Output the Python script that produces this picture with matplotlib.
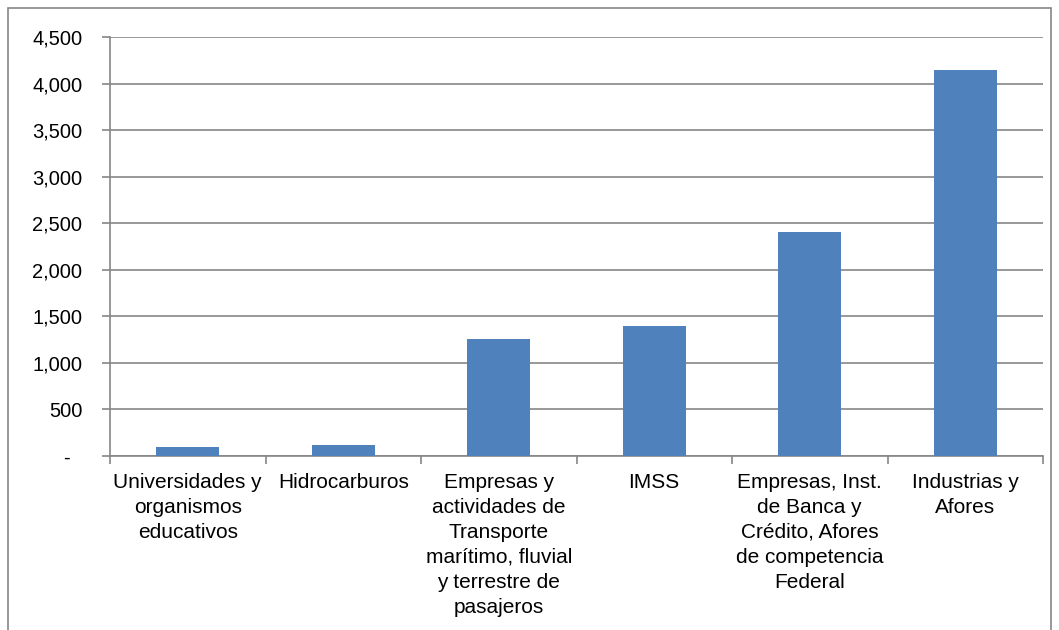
import matplotlib.pyplot as plt
import numpy as np
from matplotlib.patches import Rectangle

plt.rcParams['font.family'] = ['Liberation Sans', 'DejaVu Sans']

categorias = ['Universidades y\norganismos\neducativos',
              'Hidrocarburos',
              'Empresas y\nactividades de\nTransporte\nmarítimo, fluvial\ny terrestre de\npasajeros',
              'IMSS',
              'Empresas, Inst.\nde Banca y\nCrédito, Afores\nde competencia\nFederal',
              'Industrias y\nAfores']
valores = [100, 120, 1260, 1400, 2410, 4145]
yticks = [0, 500, 1000, 1500, 2000, 2500, 3000, 3500, 4000, 4500]
ylabels = ['-  ', '500', '1,000', '1,500', '2,000', '2,500', '3,000', '3,500', '4,000', '4,500']

grid_col = '#868686'
bar_col = '#4F81BD'

fig = plt.figure(figsize=(10.59, 6.30), dpi=100)
ax = fig.add_axes([110/1059, 1-456/630, (1043-110)/1059, (456-37)/630])

x = np.arange(len(valores))
ax.bar(x, valores, width=0.405, color=bar_col, zorder=3)

ax.set_xlim(-0.5, len(valores)-0.5)
ax.set_ylim(0, 4500)
ax.set_yticks(yticks)
ax.set_yticklabels(ylabels, fontsize=14.5)
ax.set_xticks(x)
ax.set_xticklabels(categorias, fontsize=15, linespacing=1.4, va='top')
ax.set_xticks(np.arange(len(valores)+1)-0.5, minor=True)
ax.tick_params(axis='x', which='major', length=0, pad=12)
ax.tick_params(axis='x', which='minor', length=6, color=grid_col, width=1.2)
ax.tick_params(axis='y', length=6, color=grid_col, width=1.2, pad=14)

ax.yaxis.grid(True, color=grid_col, linewidth=1.2, zorder=0)
ax.set_axisbelow(True)
for s in ['top', 'right']:
    ax.spines[s].set_visible(False)
for s in ['left', 'bottom']:
    ax.spines[s].set_color(grid_col)
    ax.spines[s].set_linewidth(1.2)

# marco exterior del grafico
fig.patches.append(Rectangle((8/1059, -0.01), (1051-8)/1059, 1.01-8/630,
                             transform=fig.transFigure, fill=False,
                             edgecolor=grid_col, linewidth=1.2))

fig.savefig('out.png', dpi=100)
